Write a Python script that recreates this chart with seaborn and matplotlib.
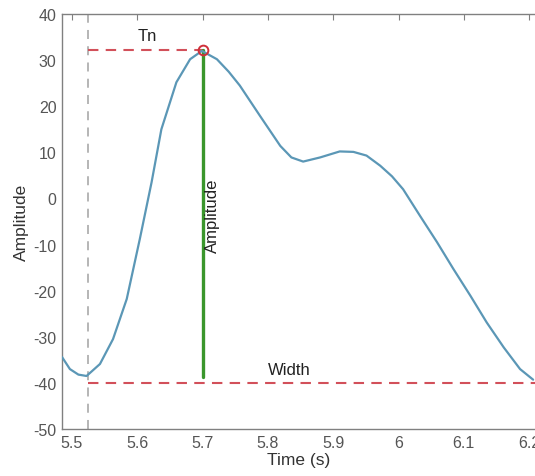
import matplotlib
matplotlib.use("Agg")
import matplotlib.pyplot as plt
import seaborn as sns
import pandas as pd

# Data
time_s = [5.485, 5.497, 5.510, 5.5225, 5.543, 5.563, 5.584, 5.604, 5.622, 5.637,
          5.660, 5.681, 5.699, 5.722, 5.740, 5.757, 5.788, 5.819, 5.836, 5.854,
          5.880, 5.910, 5.931, 5.951, 5.972, 5.990, 6.007, 6.033, 6.059, 6.084,
          6.110, 6.135, 6.161, 6.186, 6.206]
amplitude = [-34.4, -37.0, -38.2, -38.5, -35.9, -30.5, -21.8, -8.8, 3.5, 15.0,
             25.2, 30.2, 32.0, 30.2, 27.5, 24.5, 17.9, 11.4, 8.9, 8.0,
             8.9, 10.2, 10.1, 9.3, 7.1, 4.8, 2.0, -3.8, -9.5, -15.3,
             -21.1, -26.9, -32.3, -37.0, -39.3]

onset_t = 5.525
peak_t, peak_amp = 5.7, 32.2
base_amp = -40.0
green_bottom = -38.8
end_t = 6.2

xticks = [5.5, 5.6, 5.7, 5.8, 5.9, 6.0, 6.1, 6.2]
xticklabels = ["5.5", "5.6", "5.7", "5.8", "5.9", "6", "6.1", "6.2"]
yticks = [-50, -40, -30, -20, -10, 0, 10, 20, 30, 40]

sns.set_style("white")
plt.rcParams["font.family"] = ["Liberation Sans", "DejaVu Sans"]
plt.rcParams["axes.unicode_minus"] = False

df = pd.DataFrame({"Time (s)": time_s, "Amplitude": amplitude})

fig = plt.figure(figsize=(5.35, 4.77), dpi=100)
ax = fig.add_axes([0.116, 0.0985, 0.886, 0.870])

line_c = "#5b97b6"
red_c = "#d2505a"
green_c = "#3a962c"

# Gray vertical dashed line at onset
ax.axvline(onset_t, color="#b0b0b0", lw=1.3, ls=(0, (5, 4)), zorder=1)
# Tn dashed
ax.plot([onset_t, peak_t], [peak_amp, peak_amp], color=red_c, lw=1.5,
        ls=(0, (5, 3.5)), zorder=2)
# Width dashed
ax.plot([onset_t, end_t + 0.02], [base_amp, base_amp], color=red_c, lw=1.5,
        ls=(0, (5, 3.5)), zorder=2)
# Green amplitude line
ax.plot([peak_t, peak_t], [green_bottom, peak_amp], color=green_c, lw=2.4, zorder=3)

sns.lineplot(data=df, x="Time (s)", y="Amplitude", ax=ax, color=line_c, lw=1.6,
             zorder=4, sort=False)

ax.plot([peak_t], [peak_amp], marker="o", ms=7, mfc="none", mec="#d0303a",
        mew=1.4, zorder=5)

ax.text(5.615, 33.8, "Tn", fontsize=12, ha="center", va="bottom", color="#222222")
ax.text(5.833, -38.8, "Width", fontsize=12, ha="center", va="bottom", color="#222222")
ax.text(5.703, -3.5, "Amplitude", fontsize=12, ha="left", va="center",
        rotation=90, color="#222222")

ax.set_xlim(5.485, 6.2105)
ax.set_ylim(-50, 40)
ax.set_xticks(xticks)
ax.set_xticklabels(xticklabels)
ax.set_yticks(yticks)
ax.set_xlabel("Time (s)", fontsize=12.5, color="#333333", labelpad=2)
ax.set_ylabel("Amplitude", fontsize=12.5, color="#333333", labelpad=3)

for side in ["left", "bottom", "top"]:
    ax.spines[side].set_color("#808080")
    ax.spines[side].set_linewidth(1.0)
ax.spines["right"].set_visible(False)
ax.tick_params(axis="both", direction="in", length=4, width=0.8, color="#808080",
               labelsize=11.5, labelcolor="#555555", top=True, right=False, pad=4)

fig.savefig("out.png", dpi=100, facecolor="white")
